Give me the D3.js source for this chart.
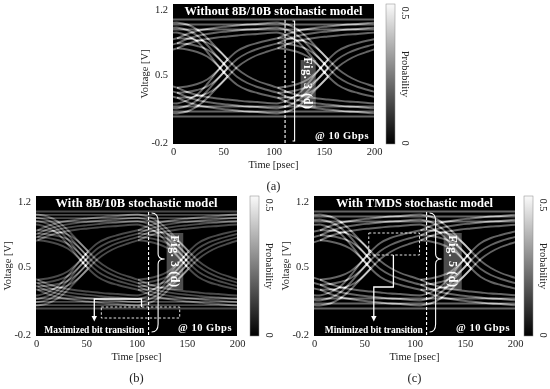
<!DOCTYPE html>
<html><head><meta charset="utf-8">
<script src="https://cdn.jsdelivr.net/npm/d3@7/dist/d3.min.js"></script>
<style>
html,body{margin:0;padding:0;background:#fff}
svg{display:block;filter:blur(0.5px)}
text{font-family:"Liberation Serif",serif;fill:#222}
.trace{mix-blend-mode:plus-lighter;fill:none}
.w{fill:#fff;font-weight:bold}
</style></head><body><svg id="c" width="550" height="389"></svg>
<script>
// Shorter arrays stop where the trace joins another one.
const timeGrid      = [3,13,23,33,43,53,63,73,83,93,103];
const fallFromHigh  = [.965,.94,.885,.79,.675,.565,.47,.41,.37,.34,.313];
const fallFromRise  = [.807,.80,.78,.745,.67,.565];
const riseFromLow   = [.155,.18,.235,.33,.445,.555,.65,.71,.75,.78,.807];
const riseFromFall  = [.313,.32,.34,.375,.45,.555];
const settleHigh    = [.807,.85,.88,.90,.915,.925,.935,.945,.95,.96,.965];
const settleLow     = [.313,.27,.24,.22,.205,.195,.185,.175,.17,.16,.155];
const holdHigh      = [.995,.995,.995,.995,.995,.995,.995,.995,.995,.995,.995];
const holdLow       = [.125,.125,.125,.125,.125,.125,.125,.125,.125,.125,.125];
// half-width of a bundle at each sample (the bundles open up at the crossing)
const edgeSpread    = [.05,.055,.06,.07,.08,.085,.08,.07,.06,.055,.05];
const flatSpread    = [.05,.05,.05,.05,.05,.05,.05,.05,.05,.05,.05];
const traceShapes   = [[fallFromHigh,edgeSpread],[fallFromRise,edgeSpread],[riseFromLow,edgeSpread],[riseFromFall,edgeSpread],
                       [settleHigh,flatSpread],[settleLow,flatSpread],[holdHigh,flatSpread],[holdLow,flatSpread]];
const periods       = [-100,0,100];
const threeLines    = [-1,0,1];
const fourLines     = [-1,-.33,.33,1];
const timeTicks     = [0,50,100,150,200];
const voltageTicks  = [-0.2,0.5,1.2];
const probTicks     = [0,0.5];

const panels = [
 {left:173,top:4,letter:"(a)",title:"Without 8B/10B stochastic model",titleLen:178,bar:386,lines:threeLines,tone:"#646464",shift:1,
  dash:111.5,fig:"Fig. 3 (d)",box:[127,142,.64,.17],brace:"square",braceT:[113,121],braceV:[1.03,-.17,.42]},
 {left:36,top:196,letter:"(b)",title:"With 8B/10B stochastic model",titleLen:162,bar:250,lines:fourLines,tone:"#4a4a4a",shift:-1.5,
  dash:112,fig:"Fig. 3 (d)",box:[130,146.5,.83,.26],brace:"curly",braceT:[115,128],braceV:[1.03,-.16,.57],
  note:"Maximized bit transition",noteT:58,noteW:100,rect:[65,143,.09,-.02],arrow:[[105,.09],[105,.17],[58,.17],[58,-.005]]},
 {left:314,top:196,letter:"(c)",title:"With TMDS stochastic model",titleLen:157,bar:524,lines:threeLines,tone:"#646464",shift:3,
  dash:112,fig:"Fig. 5 (d)",box:[129,147,.83,.26],brace:"curly",braceT:[115,127],braceV:[1.03,-.16,.57],
  note:"Minimized bit transition",noteT:59.5,noteW:98,rect:[54.5,105,.83,.61],arrow:[[79,.61],[79,.29],[59.5,.29],[59.5,-.005]]}
];

const W=201,H=140;
const svg=d3.select("#c");
const defs=svg.append("defs");
defs.append("marker").attr("id","tip").attr("viewBox","0 0 6 6").attr("refX",1).attr("refY",3)
  .attr("markerWidth",6).attr("markerHeight",6).attr("markerUnits","userSpaceOnUse").attr("orient","auto")
  .append("path").attr("d","M0,0L6,3L0,6Z").attr("fill","#fff");
const grad=defs.append("linearGradient").attr("id","ramp").attr("x1",0).attr("x2",0).attr("y1",1).attr("y2",0);
grad.append("stop").attr("offset",0).attr("stop-color","#000");
grad.append("stop").attr("offset",1).attr("stop-color","#fafafa");

panels.forEach((p,idx)=>{
  const g=svg.append("g").attr("transform",`translate(${p.left},${p.top})`);
  const x=d3.scaleLinear().domain([0,200]).range([0,W]);
  const y=d3.scaleLinear().domain([-0.2,1.2]).range([H,0]);
  const clipId="clip"+idx;
  defs.append("clipPath").attr("id",clipId).append("rect").attr("width",W).attr("height",H);
  g.append("rect").attr("width",W).attr("height",H).attr("fill","#000");

  const plot=g.append("g").attr("clip-path",`url(#${clipId})`).style("isolation","isolate");
  const line=d3.line().x(d=>x(d[0])).y(d=>y(d[1])).curve(d3.curveMonotoneX);
  const traces=[];
  periods.forEach(per=>traceShapes.forEach(([shape,spread])=>p.lines.forEach(sign=>{
    traces.push(shape.map((v,i)=>[timeGrid[i]+per+p.shift,v+sign*spread[i]]));
  })));
  plot.selectAll("path").data(traces).join("path").attr("class","trace")
    .attr("d",line).attr("stroke",p.tone).attr("stroke-width",1.9);

  // annotations, placed through the panel scales
  g.append("rect").attr("x",x(p.box[0])).attr("width",x(p.box[1])-x(p.box[0]))
    .attr("y",y(p.box[2])).attr("height",y(p.box[3])-y(p.box[2])).attr("fill","#fff").attr("opacity",.3);
  g.append("line").attr("x1",x(p.dash)).attr("x2",x(p.dash)).attr("y1",y(1.04)).attr("y2",H)
    .attr("stroke","#fff").attr("stroke-width",1.1).attr("stroke-dasharray","3,2");
  const [t0,t1]=p.braceT.map(x), [vT,vB,vN]=p.braceV.map(y);
  let bd;
  if(p.brace==="square"){
    bd=`M${t0+6},${vT}H${t1}V${vB}H${t0+6}M${t1},${vN}h-3`;
  }else{
    const m=(t0+t1)/2;
    bd=`M${t0},${vT}Q${m},${vT} ${m},${vT+8}V${vN-5}Q${m},${vN} ${t1},${vN}Q${m},${vN} ${m},${vN+5}V${vB-8}Q${m},${vB} ${t0},${vB}`;
  }
  g.append("path").attr("d",bd).attr("fill","none").attr("stroke","#fff").attr("stroke-width",1.1);
  const bx=(x(p.box[0])+x(p.box[1]))/2, by=(y(p.box[2])+y(p.box[3]))/2;
  g.append("text").attr("class","w").attr("transform",`translate(${bx},${by}) rotate(90)`)
    .attr("text-anchor","middle").attr("dy","0.33em").attr("font-size",12).attr("letter-spacing",.6).text(p.fig);
  if(p.rect){
    g.append("rect").attr("x",x(p.rect[0])).attr("width",x(p.rect[1])-x(p.rect[0]))
      .attr("y",y(p.rect[2])).attr("height",y(p.rect[3])-y(p.rect[2]))
      .attr("fill","none").attr("stroke","#fff").attr("stroke-width",.9).attr("stroke-dasharray","2.5,2");
    g.append("path").attr("d",d3.line().x(d=>x(d[0])).y(d=>y(d[1]))(p.arrow))
      .attr("fill","none").attr("stroke","#fff").attr("stroke-width",1.3).attr("marker-end","url(#tip)");
    g.append("text").attr("class","w").attr("x",x(p.noteT)).attr("y",H-3.5).attr("text-anchor","middle")
      .attr("font-size",9.5).attr("textLength",p.noteW).text(p.note);
  }
  g.append("text").attr("class","w").attr("x",W/2).attr("y",11).attr("text-anchor","middle")
    .attr("font-size",12.5).attr("textLength",p.titleLen).text(p.title);
  g.append("text").attr("class","w").attr("x",W-5).attr("y",H-5.5).attr("text-anchor","end")
    .attr("font-size",10.5).attr("letter-spacing",.5).text("@ 10 Gbps");

  // axes
  const ax=g.append("g").attr("transform",`translate(0,${H})`)
    .call(d3.axisBottom(x).tickValues(timeTicks).tickSize(0).tickPadding(4).tickFormat(d3.format("d")));
  const ay=g.append("g").call(d3.axisLeft(y).tickValues(voltageTicks).tickSize(0).tickPadding(5).tickFormat(d=>d3.format(".1f")(d).replace("−","-")));
  [ax,ay].forEach(a=>{a.select(".domain").remove();a.selectAll("text").attr("font-size",10.5).attr("font-family","Liberation Serif").attr("fill","#222");});
  ay.selectAll("text").attr("transform",d=>`translate(0,${d===1.2?5:d===-0.2?-2:0})`);
  g.append("text").attr("x",W/2).attr("y",H+24).attr("text-anchor","middle").attr("font-size",10.5).text("Time [psec]");
  g.append("text").attr("transform",`translate(-25,${H/2}) rotate(-90)`).attr("text-anchor","middle").attr("font-size",10.5).text("Voltage [V]");
  g.append("text").attr("x",W/2).attr("y",H+46).attr("text-anchor","middle").attr("font-size",12.5).text(p.letter);

  // colour bar
  const c=svg.append("g").attr("transform",`translate(${p.bar},${p.top})`);
  const yc=d3.scaleLinear().domain([0,0.5]).range([H,0]);
  c.append("rect").attr("width",9).attr("height",H).attr("fill","url(#ramp)").attr("stroke","#888").attr("stroke-width",.5);
  c.selectAll("text.tick").data(probTicks).join("text").attr("class","tick")
    .attr("transform",d=>`translate(16,${yc(d)+(d?9:-1)}) rotate(90)`).attr("text-anchor","middle").attr("font-size",10.5)
    .text(d=>d);
  c.append("text").attr("transform",`translate(16,${H/2}) rotate(90)`).attr("text-anchor","middle").attr("font-size",10.5).text("Probability");
});
</script></body></html>
